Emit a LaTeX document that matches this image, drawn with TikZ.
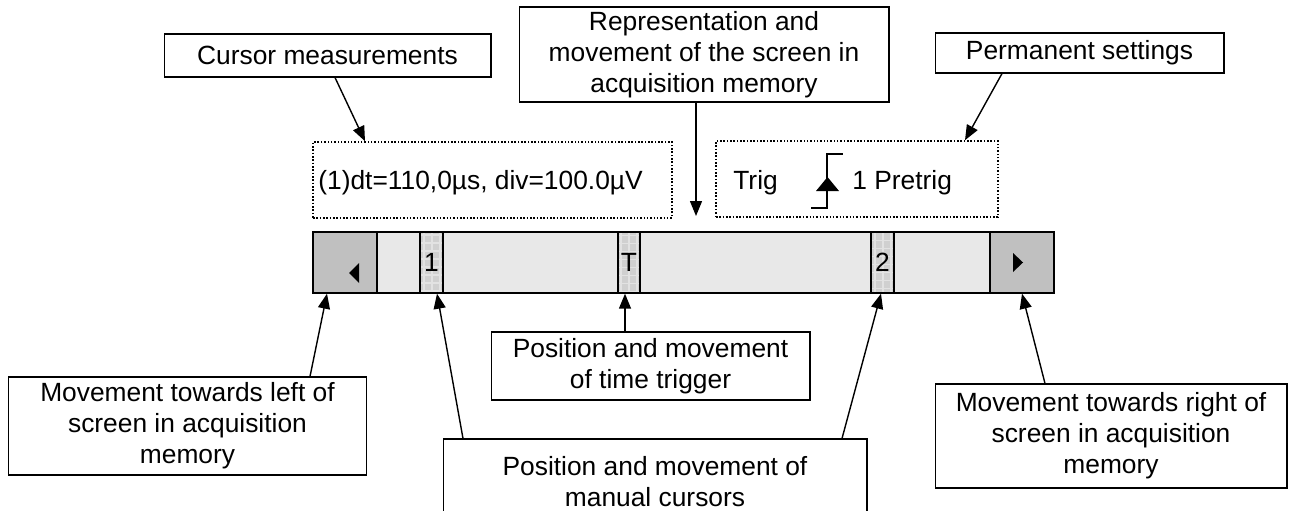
\documentclass[tikz,border=0pt]{standalone}
\usepackage{fontspec}
\setmainfont{Liberation Sans}
\usetikzlibrary{arrows.meta}
\definecolor{barfill}{HTML}{E8E8E8}
\definecolor{seggray}{HTML}{C0C0C0}
\definecolor{curgray}{HTML}{D0D0D0}
\definecolor{gridgray}{HTML}{E2E2E2}
\newcommand{\lbfont}{\fontsize{15}{17.6}\selectfont}
\tikzset{
  lbl/.style={draw, line width=0.6pt, fill=white, align=center, inner sep=0pt, font=\lbfont},
  dotbox/.style={draw, densely dotted, line width=0.9pt, inner sep=0pt},
  seg/.style={draw, thick, fill=seggray, inner sep=0pt, minimum width=1.28cm, minimum height=1.22cm},
  cur/.style={draw, thick, fill=curgray, inner sep=0pt, minimum width=0.46cm, minimum height=1.22cm, font=\lbfont,
    path picture={\draw[gridgray, step=0.16cm] (path picture bounding box.south west) grid (path picture bounding box.north east);}},
  pnt/.style={-{Triangle[length=0.3cm, width=0.24cm]}, line width=0.8pt}
}

\begin{document}
\begin{tikzpicture}[x=0.02cm, y=-0.02cm]
  \useasboundingbox (0,0) rectangle (1290,510);
  \clip (0,0) rectangle (1290,510);
  % ------------------------------------------------------------ top labels
  \node[lbl, minimum width=6.54cm, minimum height=0.86cm] (curbox) at (327.5,55.5) {Cursor measurements};
  \node[lbl, minimum width=7.4cm, minimum height=1.9cm] (repbox) at (704,54.5) {Representation and\\movement of the screen in\\acquisition memory};
  \node[lbl, minimum width=5.78cm, minimum height=0.8cm] (permbox) at (1079.5,53) {Permanent settings};
  % ------------------------------------------------------------ status line
  \node[dotbox, minimum width=7.18cm, minimum height=1.52cm] (meas) at (492.5,180) {};
  \node[font=\lbfont, anchor=west, inner sep=0pt] (meastxt) at (318,183) {(1)dt=110,0µs, div=100.0µV};
  \node[dotbox, minimum width=5.64cm, minimum height=1.52cm] (trig) at (857,179) {};
  \node[font=\lbfont, anchor=west, inner sep=0pt] (trigtxt) at (733,183) {Trig};
  \node[font=\lbfont, anchor=west, inner sep=0pt] (pretxt) at (852,183) {1 Pretrig};
  \draw[line width=0.8pt] (811,208) -- (827,208) -- (827,154) -- (843,154);
  \fill (816,191) -- (839,191) -- (827.5,177) -- cycle;
  % ------------------------------------------------------------ memory bar
  \node[draw, thick, fill=barfill, inner sep=0pt, minimum width=14.82cm, minimum height=1.22cm] (bar) at (683.5,262.5) {};
  \node[seg] (lseg) at (345,262.5) {};
  \node[seg] (rseg) at (1022,262.5) {};
  \fill (359,263) -- (349,273) -- (359,283) -- cycle;
  \fill (1013,253) -- (1023,262.5) -- (1013,272) -- cycle;
  \node[cur] (c1) at (431.5,262.5) {\raisebox{-0.09cm}{1}};
  \node[cur, minimum width=0.44cm] (ct) at (629,262.5) {\raisebox{-0.08cm}{T}};
  \node[cur] (c2) at (882.5,262.5) {\raisebox{-0.14cm}{2}};
  % ------------------------------------------------------------ bottom labels
  \node[lbl, minimum width=7.18cm, minimum height=1.96cm] (lbox) at (187.5,426) {Movement towards left of\\screen in acquisition\\memory};
  \node[lbl, minimum width=6.38cm, minimum height=1.36cm] (tbox) at (650.5,366) {Position and movement\\of time trigger};
  \node[lbl, minimum width=8.48cm, minimum height=1.72cm] (mbox) at (655,482) {Position and movement of\\manual cursors};
  \node[lbl, minimum width=7.04cm, minimum height=2.08cm] (rbox) at (1111,436) {Movement towards right of\\screen in acquisition\\memory};
  % ------------------------------------------------------------ arrows
  \coordinate (reptip) at (696,216);
  \draw[pnt] (curbox.south -| 335,0) -- (meas.north -| 365,0);
  \draw[pnt] (repbox.south -| 696,0) -- (reptip);
  \draw[pnt] (permbox.south -| 1002,0) -- (trig.north -| 965,0);
  \draw[pnt] (lbox.north -| 310,0) -- (lseg.south -| 327,0);
  \draw[pnt] (mbox.north -| 463,0) -- (c1.south -| 437,0);
  \draw[pnt] (tbox.north -| 625,0) -- (ct.south -| 625,0);
  \draw[pnt] (mbox.north -| 842,0) -- (c2.south -| 881,0);
  \draw[pnt] (rbox.north -| 1045,0) -- (rseg.south);
\end{tikzpicture}
\end{document}
